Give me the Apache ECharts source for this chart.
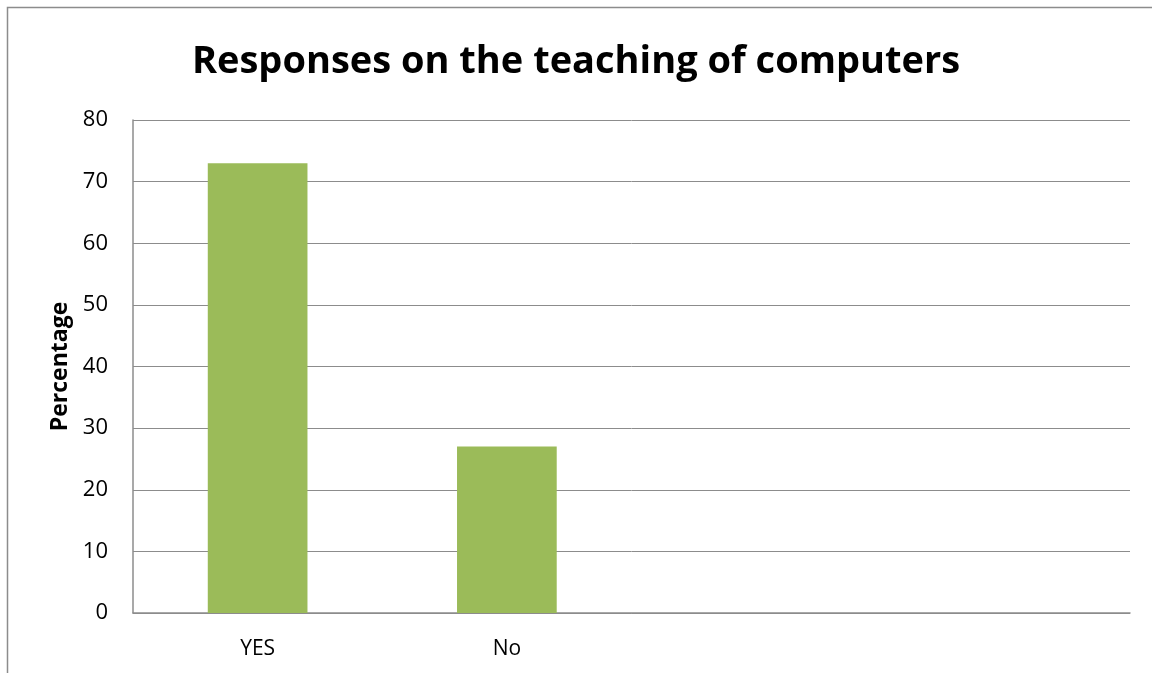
<!DOCTYPE html>
<html><head><meta charset="utf-8">
<script src="https://cdn.jsdelivr.net/npm/echarts@6/dist/echarts.min.js"></script>
<style>html,body{margin:0;padding:0;background:#fff}#c{width:1152px;height:673px}</style>
</head><body><div id="c"></div>
<script>
const categories = ['YES', 'No', '', ''];
const percentages = [73, 27, null, null];
const yTicks = [0, 10, 20, 30, 40, 50, 60, 70, 80];

const chart = echarts.init(document.getElementById('c'));
chart.setOption({
  animation: false,
  title: {
    text: 'Responses on the teaching of computers',
    left: 'center', top: 38,
    textStyle: { fontFamily: 'Open Sans', fontWeight: 'bold', fontSize: 38, color: '#000' }
  },
  graphic: [{
    type: 'rect', shape: { x: 7.5, y: 7.5, width: 1200, height: 700 },
    style: { fill: 'none', stroke: '#8c8c8c', lineWidth: 1.5 }, silent: true
  }],
  grid: { left: 133, right: 22, top: 120, bottom: 60, containLabel: false },
  xAxis: {
    type: 'category', data: categories,
    axisLine: { lineStyle: { color: '#8c8c8c', width: 1.5 } },
    axisTick: { show: false },
    axisLabel: { fontFamily: 'Open Sans', fontSize: 21, color: '#000', margin: 26 }
  },
  yAxis: {
    type: 'value', min: yTicks[0], max: yTicks[yTicks.length - 1], interval: 10,
    name: 'Percentage', nameLocation: 'middle', nameGap: 59, nameRotate: 90,
    nameTextStyle: { fontFamily: 'Open Sans', fontWeight: 'bold', fontSize: 23, color: '#000' },
    axisLine: { show: true, lineStyle: { color: '#8c8c8c', width: 1.5 } },
    axisTick: { show: false },
    splitLine: { lineStyle: { color: '#8c8c8c', width: 1 } },
    axisLabel: { fontFamily: 'Open Sans', fontSize: 22, color: '#000', margin: 25 }
  },
  series: [{
    type: 'bar', data: percentages, barWidth: '40%',
    itemStyle: { color: '#9BBB59' }
  }]
});
</script></body></html>
